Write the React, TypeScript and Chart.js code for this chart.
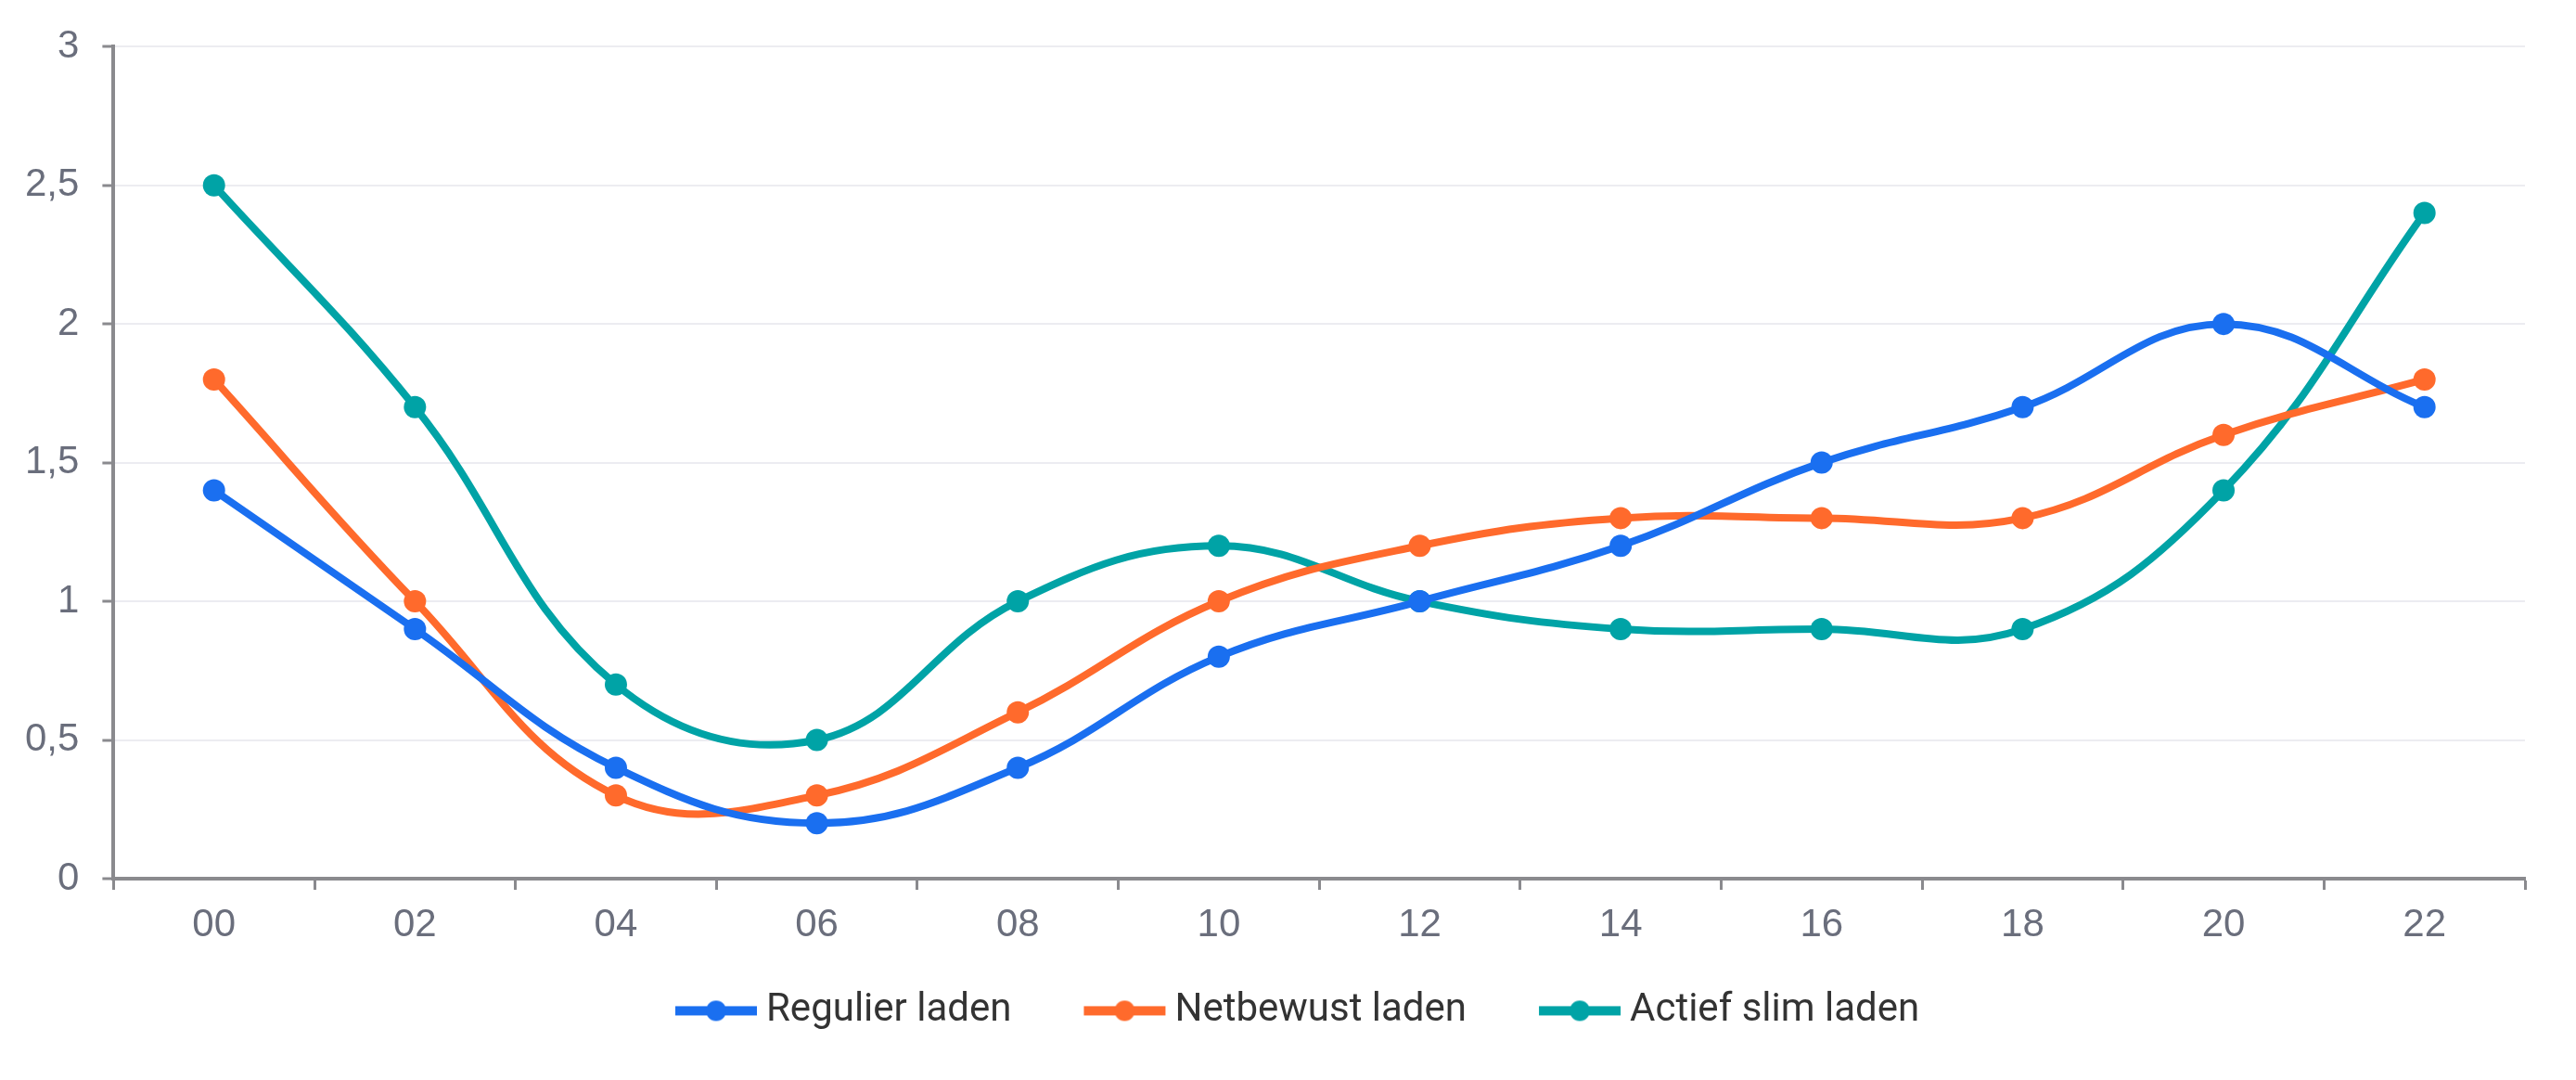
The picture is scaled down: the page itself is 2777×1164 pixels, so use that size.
import { useEffect, useRef } from 'react'
import { Chart, registerables } from 'chart.js'

Chart.register(...registerables)

const hours = ['00', '02', '04', '06', '08', '10', '12', '14', '16', '18', '20', '22']
const regulier  = [1.4, 0.9, 0.4, 0.2, 0.4, 0.8, 1.0, 1.2, 1.5, 1.7, 2.0, 1.7]
const netbewust = [1.8, 1.0, 0.3, 0.3, 0.6, 1.0, 1.2, 1.3, 1.3, 1.3, 1.6, 1.8]
const actief    = [2.5, 1.7, 0.7, 0.5, 1.0, 1.2, 1.0, 0.9, 0.9, 0.9, 1.4, 2.4]

const BLUE   = '#1a6ff0'
const ORANGE = '#ff6a2c'
const TEAL   = '#00a3a6'
const AXIS   = '#8a8a8e'
const LABEL  = '#6a6e7c'

// legend marker: short line with a dot, drawn into a small canvas
function marker(color: string) {
  const c = document.createElement('canvas')
  c.width = 230; c.height = 30
  const g = c.getContext('2d')!
  g.fillStyle = color
  g.fillRect(99, 10, 88, 10)
  g.beginPath(); g.arc(143, 15, 11, 0, Math.PI * 2); g.fill()
  return c
}

export default function App() {
  const ref   = useRef<HTMLCanvasElement>(null)
  const chart = useRef<Chart | null>(null)

  useEffect(() => {
    document.body.style.margin = '0'
    if (!ref.current) return
    chart.current?.destroy()

    const ds = (label: string, data: number[], color: string) => ({
      label, data,
      borderColor: color, backgroundColor: color,
      pointBackgroundColor: color, pointBorderWidth: 0,
      borderWidth: 8, pointRadius: 12, tension: 0.4,
    })

    chart.current = new Chart(ref.current, {
      type: 'line',
      data: {
        labels: hours,
        datasets: [
          ds('Regulier laden', regulier, BLUE),
          ds('Netbewust laden', netbewust, ORANGE),
          ds('Actief slim laden', actief, TEAL),
        ],
      },
      options: {
        animation: false, responsive: true, maintainAspectRatio: false,
        layout: { padding: { left: 2, right: 26.8, top: 29.8, bottom: 43.6 } },
        plugins: {
          tooltip: { enabled: false },
          legend: {
            position: 'bottom',
            labels: {
              usePointStyle: true, pointStyleWidth: 122, padding: 33,
              color: '#333333',
              font: { family: 'Roboto, "Noto Sans", sans-serif', size: 42 },
              generateLabels: (c: Chart) => c.data.datasets.map((d: any, i: number) => ({
                text: d.label, datasetIndex: i, fontColor: '#333333',
                pointStyle: marker(d.borderColor), lineWidth: 0, strokeStyle: 'transparent',
                fillStyle: d.borderColor, hidden: false,
              })),
            },
          },
        },
        scales: {
          x: {
            offset: true,
            grid: { display: true, offset: true, drawOnChartArea: false, tickLength: 12, tickColor: AXIS, tickWidth: 3 },
            border: { color: AXIS, width: 4 },
            ticks: { color: LABEL, padding: 13, font: { family: '"Liberation Sans", Arial, sans-serif', size: 42 } },
          },
          y: {
            min: 0, max: 3,
            grid: { color: '#ececf1', lineWidth: 2, tickLength: 12, tickColor: AXIS, tickWidth: 3 },
            border: { color: AXIS, width: 4 },
            ticks: {
              stepSize: 0.5, color: LABEL, padding: 25,
              font: { family: '"Liberation Sans", Arial, sans-serif', size: 42 },
              callback: (v: any) => String(v).replace('.', ','),
            },
          },
          // empty right-hand box that keeps the plot clear of the right edge
          spacer: {
            type: 'linear', position: 'right', display: true,
            grid: { display: false }, border: { display: false }, ticks: { display: false },
            afterFit: (s: any) => { s.width = 28.2 },
          },
        },
      },
    })
    return () => chart.current?.destroy()
  }, [])

  return (
    <div style={{ position: 'relative', width: '100vw', height: '100vh', background: '#fff' }}>
      <canvas ref={ref} />
    </div>
  )
}
